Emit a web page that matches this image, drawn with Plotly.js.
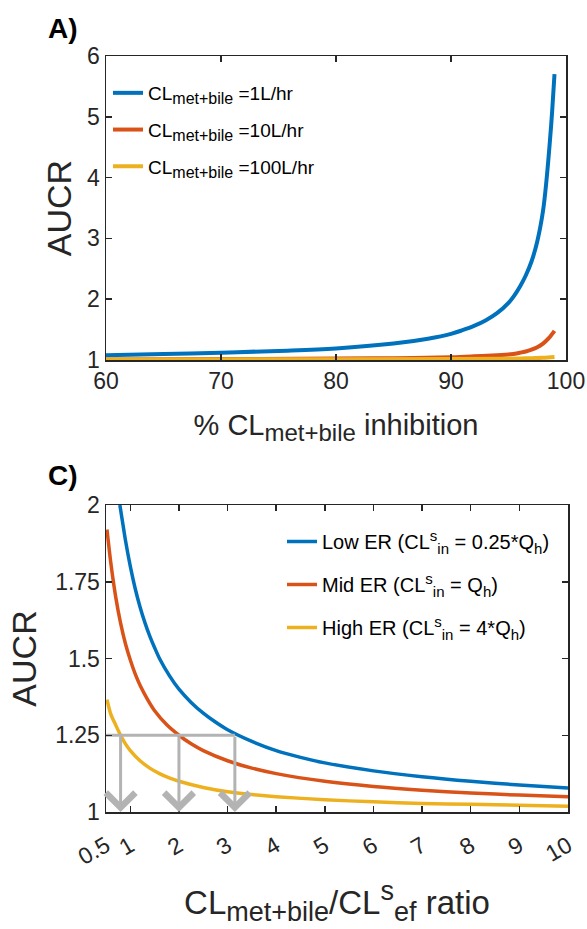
<!DOCTYPE html>
<html><head><meta charset="utf-8">
<script src="https://cdn.plot.ly/plotly-3.0.1.min.js"></script>
<style>html,body{margin:0;padding:0;background:#fff}</style>
</head><body><div id="chart" style="width:587px;height:929px"></div>
<script>
// ---------- Panel A data ----------
const inhibA1 = [60,65,70,75,80,85,88,90,91,92,93,94,95,95.5,96,96.5,97,97.5,98,98.3,98.6,98.8,99];
const aucrA1  = [1.08,1.10,1.12,1.15,1.19,1.27,1.35,1.43,1.49,1.56,1.65,1.77,1.94,2.06,2.21,2.39,2.62,2.95,3.45,3.95,4.6,5.1,5.7];
const inhibA2 = [60,70,80,85,90,92,94,95,96,96.5,97,97.5,98,98.5,99];
const aucrA2  = [1.01,1.015,1.025,1.03,1.045,1.06,1.08,1.09,1.12,1.14,1.17,1.21,1.27,1.36,1.48];
const inhibA3 = [60,80,90,95,97,98,99];
const aucrA3  = [1.01,1.012,1.015,1.02,1.03,1.035,1.05];
const subA = '<sub><span style="font-size:16px">met+bile</span></sub>';
const namesA = ['CL'+subA+' =1L/hr','CL'+subA+' =10L/hr','CL'+subA+' =100L/hr'];
const ticksAx = [60,70,80,90,100];
const ticksAy = [1,2,3,4,5,6];

// ---------- Panel C data ----------
const ratioLow = [0.785,0.85,0.9,1.0,1.1,1.2,1.3,1.4,1.5,1.6,1.8,2.0,2.25,2.5,2.75,3.0,3.5,4,4.5,5,6,7,8,9,10];
const aucrLow  = [2.0,1.935,1.885,1.80,1.728,1.668,1.617,1.573,1.535,1.50,1.445,1.40,1.357,1.322,1.293,1.268,1.23,1.20,1.178,1.16,1.134,1.115,1.10,1.088,1.078];
const ratioMid = [0.52,0.6,0.7,0.8,0.9,1.0,1.1,1.2,1.35,1.5,1.75,2.0,2.25,2.5,3.0,3.5,4,5,6,7,8,9,10];
const aucrMid  = [1.92,1.81,1.70,1.615,1.548,1.495,1.45,1.413,1.368,1.33,1.284,1.25,1.222,1.20,1.167,1.143,1.125,1.10,1.083,1.071,1.062,1.055,1.05];
const ratioHigh = [0.52,0.6,0.7,0.8,0.9,1.0,1.2,1.4,1.6,1.8,2.0,2.5,3.0,3.5,4,5,6,7,8,9,10];
const aucrHigh  = [1.366,1.318,1.283,1.25,1.222,1.20,1.167,1.143,1.125,1.111,1.10,1.08,1.066,1.057,1.05,1.04,1.033,1.028,1.025,1.022,1.019];
const supS = '<sup><span style="font-size:15px">s</span></sup>';
const subIn = '<sub><span style="font-size:15px">in</span></sub>';
const subH = '<sub><span style="font-size:15px">h</span></sub>';
const namesC = ['Low ER (CL'+supS+subIn+' = 0.25*Q'+subH+')','Mid ER (CL'+supS+subIn+' = Q'+subH+')','High ER (CL'+supS+subIn+' = 4*Q'+subH+')'];
const refLevel = 1.25;
const arrowX = [0.8, 2.0, 3.15];
const arrowBottom = 1.0;
const ticksCx = [0.5,1,2,3,4,5,6,7,8,9,10];
const tickTextCx = ['0.5','1','2','3','4','5','6','7','8','9','10'];
const ticksCy = [1,1.25,1.5,1.75,2];
const tickTextCy = ['1','1.25','1.5','1.75','2'];

const colors = ['#0072BD','#D95319','#EDB120'];
const grey = '#B3B3B3';
const txt = '#262626';
const FONT = 'Liberation Sans, Arial, Helvetica, sans-serif';

const traces = [];
[[inhibA1,aucrA1],[inhibA2,aucrA2],[inhibA3,aucrA3]].forEach((d,i)=>{
  traces.push({x:d[0],y:d[1],type:'scatter',mode:'lines',xaxis:'x',yaxis:'y',
    name:namesA[i],legend:'legend',legendgroup:'a'+i,
    line:{color:colors[i],width:4,shape:'spline',smoothing:1}});
});
[[ratioLow,aucrLow],[ratioMid,aucrMid],[ratioHigh,aucrHigh]].forEach((d,i)=>{
  traces.push({x:d[0],y:d[1],type:'scatter',mode:'lines',xaxis:'x2',yaxis:'y2',
    name:namesC[i],legend:'legend2',legendgroup:'c'+i,
    line:{color:colors[i],width:3.5,shape:'spline',smoothing:0.8}});
});
traces.push({x:[ticksCx[0], arrowX[arrowX.length-1]], y:[refLevel, refLevel], type:'scatter', mode:'lines',
  xaxis:'x2', yaxis:'y2', showlegend:false, hoverinfo:'skip', line:{color:grey,width:3}});

const W=587,H=929;
const px = v=>v/W, py = v=>1-v/H;

const annotations = arrowX.map(xv=>({
  x:xv, y:arrowBottom, ax:xv, ay:refLevel, xref:'x2', yref:'y2', axref:'x2', ayref:'y2',
  showarrow:true, arrowhead:4, arrowwidth:3, arrowsize:1.9, arrowcolor:grey, text:''
}));
annotations.push({x:px(46),y:py(11),xref:'paper',yref:'paper',xanchor:'left',yanchor:'top',showarrow:false,
  text:'<b>A)</b>',font:{family:FONT,size:28,color:'#000'}});
annotations.push({x:px(46),y:py(458),xref:'paper',yref:'paper',xanchor:'left',yanchor:'top',showarrow:false,
  text:'<b>C)</b>',font:{family:FONT,size:28,color:'#000'}});

const axCommon = {showline:true, linecolor:txt, linewidth:1.5, mirror:'ticks', ticks:'inside', ticklen:6,
  tickcolor:txt, tickwidth:1.5, showgrid:false, zeroline:false, tickfont:{family:FONT,size:23,color:txt}};

const layout = {
  width:W, height:H, margin:{l:0,r:0,t:0,b:0}, paper_bgcolor:'#fff', plot_bgcolor:'#fff',
  font:{family:FONT,color:txt},
  xaxis:Object.assign({}, axCommon, {domain:[px(106),px(566)], anchor:'y', range:[60,100], tickvals:ticksAx,
    title:{text:'% CL<sub><span style="font-size:24px">met+bile</span></sub> inhibition', font:{family:FONT,size:29,color:txt}, standoff:21}}),
  yaxis:Object.assign({}, axCommon, {domain:[py(360),py(56)], anchor:'x', range:[1,6], tickvals:ticksAy,
    title:{text:'AUCR', font:{family:FONT,size:34,color:txt}, standoff:5}}),
  xaxis2:Object.assign({}, axCommon, {domain:[px(106),px(568)], anchor:'y2', range:[0.5,10], tickvals:ticksCx,
    ticktext:tickTextCx, tickangle:-30, ticklabelstandoff:10,
    title:{text:'CL<sub><span style="font-size:27px">met+bile</span></sub>/CL<sup><span style="font-size:27px">s</span></sup><sub><span style="font-size:27px">ef</span></sub> ratio', font:{family:FONT,size:33,color:txt}, standoff:22}}),
  yaxis2:Object.assign({}, axCommon, {domain:[py(812),py(505)], anchor:'x2', range:[1,2], tickvals:ticksCy,
    ticktext:tickTextCy,
    title:{text:'AUCR', font:{family:FONT,size:34,color:txt}, standoff:8}}),
  legend:{x:px(108), y:py(74), xanchor:'left', yanchor:'top', bgcolor:'rgba(0,0,0,0)', borderwidth:0,
    font:{family:FONT,size:19,color:'#000'}, tracegroupgap:9},
  legend2:{x:px(282), y:py(522), xanchor:'left', yanchor:'top', bgcolor:'rgba(0,0,0,0)', borderwidth:0,
    font:{family:FONT,size:20,color:'#000'}, tracegroupgap:14},
  annotations:annotations,
  showlegend:true
};
Plotly.newPlot('chart', traces, layout, {staticPlot:true, displayModeBar:false});
</script></body></html>
